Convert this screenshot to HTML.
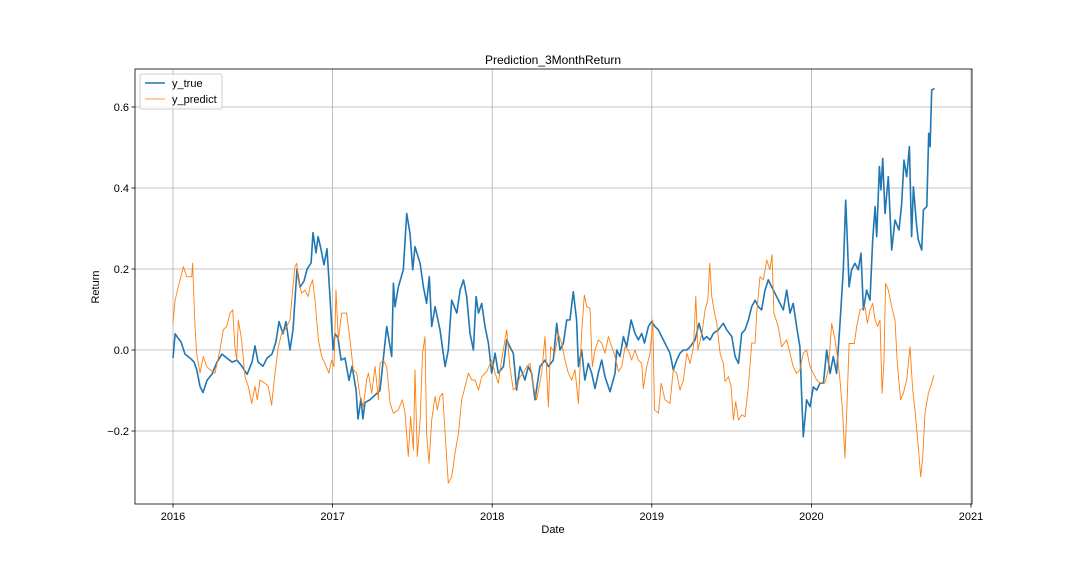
<!DOCTYPE html>
<html><head><meta charset="utf-8"><style>
body{margin:0;background:#fff;}
svg text{font-family:"Liberation Sans",sans-serif;font-size:11px;fill:#000;}
</style></head><body>
<svg id="chart" width="1080" height="576" xmlns="http://www.w3.org/2000/svg">
<rect width="1080" height="576" fill="#fff"/>
<text x="553" y="64" text-anchor="middle" style="font-size:12px">Prediction_3MonthReturn</text>
<g id="grid"></g><g id="series"></g><g id="axes"></g>
<text x="553" y="533" text-anchor="middle">Date</text>
<text transform="translate(99,287) rotate(-90)" text-anchor="middle">Return</text>
<g>
<rect x="140" y="74" width="82" height="35" rx="2" fill="#fff" fill-opacity="0.8" stroke="#ccc"/>
<line x1="145" y1="83" x2="165" y2="83" stroke="#1f77b4" stroke-width="1.5"/>
<text x="172" y="87">y_true</text>
<line x1="145" y1="99" x2="165" y2="99" stroke="#ff7f0e" stroke-width="0.8"/>
<text x="172" y="103">y_predict</text>
</g>
</svg>
<script>
const xTicks=[2016,2017,2018,2019,2020,2021];
const yTicks=[-0.2,0.0,0.2,0.4,0.6];
const trueDates=[0,.013,.031,.050,.075,.107,.132,.150,.169,.188,.213,.244,.276,.307,.338,.370,.401,.432,.464,.495,.514,.533,.564,.589,.620,.645,.664,.689,.708,.733,.752,.777,.796,.821,.840,.865,.877,.896,.909,.927,.946,.965,.984,1.003,1.015,1.034,1.053,1.078,1.103,1.122,1.147,1.159,1.178,1.190,1.203,
1.234,1.297,1.339,1.370,1.381,1.391,1.412,1.443,1.464,1.485,1.502,1.516,1.548,1.569,1.589,1.606,1.621,1.642,1.673,1.705,1.725,1.746,1.778,1.799,1.820,1.840,1.861,1.882,1.899,1.914,1.934,1.955,1.976,1.997,2.018,2.038,2.070,2.091,2.111,2.132,2.153,2.174,2.205,2.226,2.247,2.268,2.299,2.331,2.352,2.383,2.404,
2.425,2.446,2.467,2.487,2.508,2.529,2.540,2.560,2.581,2.602,2.623,2.644,2.665,2.686,2.707,2.738,2.770,2.780,2.801,2.822,2.843,2.870,2.895,2.916,2.937,2.954,2.979,2.999,3.020,3.041,3.062,3.094,3.114,3.135,3.156,3.177,3.198,3.219,3.240,3.271,3.296,3.323,3.344,3.365,3.386,3.417,3.448,3.469,3.501,3.522,3.543,3.563,3.584,3.605,3.626,3.647,
3.667,3.688,3.709,3.730,3.751,3.772,3.803,3.824,3.845,3.866,3.886,3.907,3.928,3.939,3.949,3.970,3.991,4.012,4.033,4.054,4.075,4.096,4.117,4.137,4.158,4.179,4.200,4.215,4.225,4.236,4.252,4.273,4.294,4.311,4.326,4.346,4.367,4.384,4.399,4.409,4.426,4.436,4.447,4.461,4.482,4.503,4.524,4.549,4.566,4.580,4.597,4.614,4.628,4.639,4.660,4.670,4.691,4.702,4.723,4.735,4.744,4.754,4.771];
const trueValues=[-0.02,0.04,0.03,0.02,-0.01,-0.02,-0.03,-0.05,-0.09,-0.105,-0.075,-0.06,-0.03,-0.01,-0.02,-0.03,-0.025,-0.04,-0.06,-0.03,0.01,-0.03,-0.04,-0.02,-0.01,0.02,0.07,0.04,0.07,0.0,0.05,0.2,0.155,0.17,0.2,0.215,0.29,0.24,0.28,0.25,0.21,0.25,0.13,0.0,0.04,0.03,-0.025,-0.02,-0.075,-0.04,-0.1,-0.17,-0.12,-0.17,-0.13,
-0.123,-0.10,0.058,-0.016,0.165,0.107,0.156,0.198,0.337,0.288,0.198,0.255,0.214,0.156,0.115,0.181,0.058,0.107,0.05,-0.041,0,0.123,0.091,0.148,0.173,0.132,0.041,0,0.132,0.091,0.115,0.058,0.017,-0.057,-0.008,-0.057,-0.041,0.025,0.008,-0.008,-0.099,-0.041,-0.074,-0.041,-0.057,-0.123,-0.041,-0.025,-0.041,-0.025,0.066,
0,0.017,0.074,0.074,0.144,0.074,-0.041,0,-0.074,-0.033,-0.057,-0.095,-0.057,-0.025,-0.066,-0.103,-0.057,0,-0.016,0.033,0.008,0.074,0.041,0.025,0.041,0.017,0.058,0.070,0.058,0.05,0.033,0.008,-0.008,-0.049,-0.025,-0.008,0,0,0.008,0.025,0.066,0.025,0.033,0.025,0.041,0.05,0.066,0.05,0.033,-0.016,-0.033,0.041,0.05,0.074,0.107,0.123,
0.107,0.099,0.148,0.173,0.156,0.140,0.115,0.099,0.148,0.091,0.115,0.058,0.008,-0.115,-0.214,-0.123,-0.140,-0.091,-0.099,-0.082,-0.082,0,-0.058,-0.016,-0.058,0.066,0.198,0.370,0.272,0.156,0.198,0.214,0.198,0.239,0.099,0.148,0.123,0.272,0.354,0.280,0.453,0.395,0.473,0.337,0.428,0.247,0.321,0.296,0.362,0.469,0.428,0.502,0.280,0.403,0.305,0.272,0.247,0.346,0.354,0.535,0.502,0.642,0.646];
const predDates=[0,.013,.033,.065,.086,.117,.123,.138,.148,.169,.190,.211,.232,.263,.294,.315,.336,.357,.374,.388,.399,.409,.430,.451,.472,.493,.514,.528,.545,.576,.597,.618,.639,.660,.681,.702,.733,.744,.764,.775,.785,.806,.827,.848,.858,.875,.890,.911,.932,.952,.977,.994,1.009,1.021,1.036,1.057,1.088,1.109,1.130,1.151,1.172,1.193,
1.213,1.224,1.245,1.266,1.287,1.297,1.318,1.339,1.360,1.381,1.412,1.437,1.454,1.474,1.489,1.506,1.516,1.531,1.548,1.564,1.579,1.589,1.604,1.621,1.642,1.656,1.673,1.690,1.705,1.725,1.746,1.767,1.788,1.809,1.830,1.851,1.872,1.893,1.914,1.934,1.966,1.997,2.018,2.038,2.059,2.080,2.091,2.111,2.132,2.153,2.174,2.195,2.216,2.237,2.258,2.278,2.310,2.331,2.352,2.366,2.393,2.414,
2.435,2.456,2.477,2.498,2.519,2.540,2.560,2.577,2.592,2.613,2.627,2.644,2.665,2.686,2.707,2.728,2.749,2.770,2.791,2.812,2.832,2.853,2.874,2.895,2.916,2.937,2.947,2.968,2.989,3.006,3.017,3.042,3.058,3.083,3.114,3.135,3.156,3.177,3.198,3.219,3.240,3.261,3.276,3.289,3.314,3.334,3.351,3.363,3.376,3.393,3.407,3.428,3.448,3.459,3.480,3.497,3.511,3.526,3.543,3.563,3.584,3.605,3.626,3.647,
3.657,3.678,3.699,3.720,3.740,3.753,3.765,3.792,3.813,3.845,3.866,3.886,3.907,3.928,3.949,3.970,3.991,4.012,4.033,4.054,4.085,4.106,4.127,4.148,4.163,4.179,4.196,4.210,4.221,4.236,4.252,4.269,4.284,4.305,4.336,4.351,4.367,4.384,4.399,4.415,4.430,4.443,4.455,4.465,4.482,4.503,4.524,4.538,4.559,4.576,4.597,4.618,4.635,4.649,4.670,4.685,4.698,4.712,4.733,4.754,4.768];
const predValues=[0.066,0.123,0.156,0.206,0.181,0.181,0.214,0.058,-0.008,-0.057,-0.016,-0.041,-0.049,-0.057,0,0.05,0.058,0.091,0.099,0.008,-0.025,0.074,0.025,-0.066,-0.090,-0.132,-0.090,-0.123,-0.074,-0.082,-0.090,-0.136,-0.057,0.008,0.041,0.05,0.074,0.123,0.206,0.214,0.173,0.140,0.148,0.132,0.156,0.173,0.123,0.025,-0.016,-0.033,-0.057,-0.025,-0.041,0.148,0.025,0.091,0.091,0.025,-0.049,-0.057,-0.115,-0.140,
-0.074,-0.057,-0.107,-0.041,-0.123,-0.033,-0.025,-0.041,-0.132,-0.156,-0.148,-0.123,-0.156,-0.263,-0.165,-0.247,-0.049,-0.263,-0.173,-0.008,0.033,-0.206,-0.280,-0.173,-0.115,-0.148,-0.115,-0.107,-0.206,-0.329,-0.313,-0.255,-0.206,-0.123,-0.090,-0.057,-0.074,-0.074,-0.099,-0.066,-0.053,-0.025,-0.057,-0.082,-0.025,0.025,0.05,-0.041,-0.099,-0.090,-0.066,-0.057,-0.041,-0.033,-0.090,-0.123,-0.057,0.033,-0.140,0.008,-0.008,0.041,
0.017,-0.025,-0.057,-0.074,-0.049,-0.132,0.041,0.136,0.107,0.103,-0.041,0,0.025,0.017,-0.008,0.033,0.008,-0.016,-0.053,-0.041,0.008,0,-0.025,0,-0.025,-0.033,-0.095,-0.041,-0.008,0.074,-0.148,-0.156,-0.082,-0.123,-0.132,-0.049,-0.057,-0.099,-0.074,-0.008,-0.033,0.008,0.132,0,0.041,0.099,0.123,0.214,0.132,0.091,0.066,-0.008,-0.033,-0.078,-0.066,-0.090,-0.173,-0.128,-0.173,-0.160,-0.165,-0.090,0.017,0.017,
0.091,0.181,0.173,0.222,0.198,0.235,0.091,0.058,0.008,0.025,-0.008,-0.041,-0.058,-0.049,-0.008,0,-0.041,-0.058,-0.074,-0.082,-0.082,-0.049,0.066,0.025,-0.016,-0.074,-0.156,-0.267,-0.156,0.016,0.016,0.016,0.058,0.099,0.107,0.066,0.099,0.115,0.074,0.058,0.074,-0.107,-0.025,0.165,0.148,0.107,0.074,-0.033,-0.123,-0.107,-0.074,0.008,-0.099,-0.148,-0.239,-0.313,-0.263,-0.156,-0.107,-0.082,-0.062];

const X0=135,X1=972,Y0=69,Y1=504;
function xs(year){return 173+(year-2016)*159.6;}
function ys(v){return 350-v*405;}
const NS="http://www.w3.org/2000/svg";
const grid=document.getElementById('grid'),axes=document.getElementById('axes'),series=document.getElementById('series');
function mk(tag,attrs,parent){const e=document.createElementNS(NS,tag);for(const k in attrs)e.setAttribute(k,attrs[k]);parent.appendChild(e);return e;}
xTicks.forEach(t=>{
  const x=xs(t);
  const g=mk('line',{x1:x,y1:Y0,x2:x,y2:Y1,stroke:'#b0b0b0','stroke-width':0.8},grid);
  
  
  mk('line',{x1:x,y1:Y1,x2:x,y2:Y1+3.5,stroke:'#000','stroke-width':0.8},axes);
  const tx=mk('text',{x:x,y:Y1+16,'text-anchor':'middle'},axes);
  tx.textContent=String(t);
  
  
});
yTicks.forEach(t=>{
  const y=ys(t);
  const g=mk('line',{x1:X0,y1:y,x2:X1,y2:y,stroke:'#b0b0b0','stroke-width':0.8},grid);
  
  
  mk('line',{x1:X0-3.5,y1:y,x2:X0,y2:y,stroke:'#000','stroke-width':0.8},axes);
  const tx=mk('text',{x:X0-6,y:y+4,'text-anchor':'end'},axes);
  tx.textContent=t.toFixed(1).replace('-','\u2212');
  
  
});
const frame=mk('rect',{x:X0,y:Y0,width:X1-X0,height:Y1-Y0,fill:'none',stroke:'#000','stroke-width':0.8},axes);


function path(dates,vals){return dates.map((d,i)=>(i?'L':'M')+xs(2016+d).toFixed(1)+','+ys(vals[i]).toFixed(1)).join(' ');}
const pp=mk('path',{d:path(predDates,predValues),fill:'none',stroke:'#ff7f0e','stroke-width':0.9,'stroke-linejoin':'round'},series);


const tp=mk('path',{d:path(trueDates,trueValues),fill:'none',stroke:'#1f77b4','stroke-width':1.6,'stroke-linejoin':'round'},series);


series.insertBefore(pp,null);
</script>
</body></html>
